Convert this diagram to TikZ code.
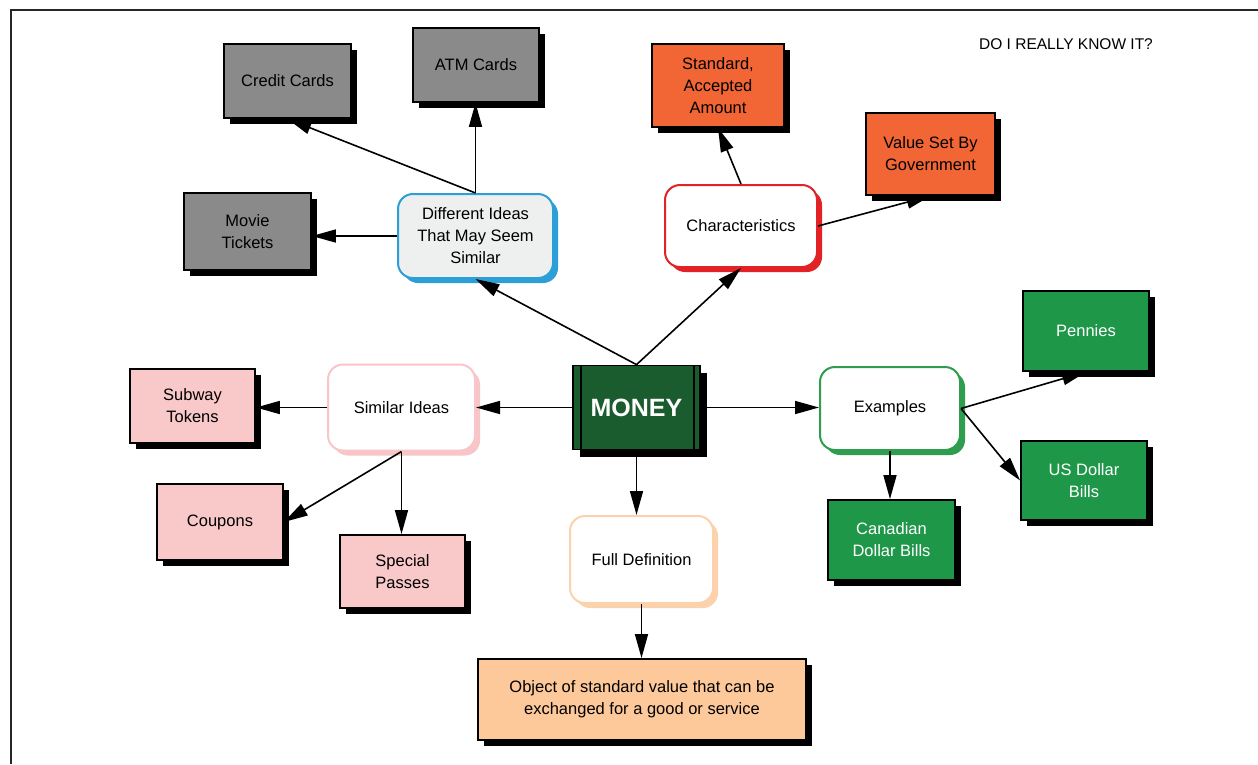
\documentclass[tikz,border=0pt]{standalone}
\usepackage{fontspec}
\setmainfont{Liberation Sans}
\usetikzlibrary{arrows.meta,shadows}
\definecolor{boxgray}{HTML}{8A8A8A}
\definecolor{boxorange}{HTML}{F26535}
\definecolor{boxgreen}{HTML}{1F9749}
\definecolor{moneygreen}{HTML}{1A5C2E}
\definecolor{boxpink}{HTML}{F9C9CA}
\definecolor{boxpeach}{HTML}{FDC99A}
\definecolor{peachline}{HTML}{FBD2AC}
\definecolor{blueline}{HTML}{2C9FD6}
\definecolor{bluefill}{HTML}{EEF0F0}
\definecolor{redline}{HTML}{E32228}
\definecolor{greenline}{HTML}{2E9E4E}
\definecolor{pinkline}{HTML}{F8C6C8}
\tikzset{
  sq/.style={draw=black, line width=1.8pt, inner sep=2pt, align=center,
    font=\fontsize{16.5}{22}\selectfont,
    drop shadow={shadow xshift=6pt, shadow yshift=-6pt, fill=black, opacity=1}},
  rnd/.style={draw=#1, line width=2pt, rounded corners=15pt, fill=white, inner sep=2pt,
    align=center, font=\fontsize{16.5}{22}\selectfont,
    drop shadow={shadow xshift=5pt, shadow yshift=-5pt, fill=#1, opacity=1}},
  arr/.style={-{Triangle[length=24pt,width=13pt]}, line width=1.6pt},
}
\begin{document}
\begin{tikzpicture}[x=1pt,y=-1pt]
\useasboundingbox (0,0) rectangle (1258,764);
\fill[white] (0,0) rectangle (1258,764);
\draw[line width=2.5pt, black!85] (11,764) -- (11,10) -- (1258,10);

\node[font=\fontsize{15.5}{18}\selectfont] (title) at (1066,44) {DO I REALLY KNOW IT?};

% gray
\node[sq, fill=boxgray, minimum width=127pt, minimum height=74pt] (credit) at (287.5,81) {Credit Cards};
\node[sq, fill=boxgray, minimum width=126pt, minimum height=74pt] (atm) at (476,65) {ATM Cards};
\node[sq, fill=boxgray, minimum width=127pt, minimum height=77pt] (movie) at (247.5,231.5) {Movie\\Tickets};
\node[rnd=blueline, fill=bluefill, minimum width=155pt, minimum height=84pt] (diff) at (475.5,236) {Different Ideas\\That May Seem\\Similar};

% orange
\node[rnd=redline, minimum width=152pt, minimum height=82pt] (charac) at (741,226) {Characteristics};
\node[sq, fill=boxorange, minimum width=132pt, minimum height=83pt] (standard) at (718,85.5) {Standard,\\Accepted\\Amount};
\node[sq, fill=boxorange, minimum width=129pt, minimum height=82pt] (valueset) at (930.5,154) {Value Set By\\Government};

% money
\node[draw=black, line width=1.8pt, fill=moneygreen, text=white, minimum width=127pt, minimum height=84pt,
  font=\fontsize{25}{28}\selectfont\bfseries,
  drop shadow={shadow xshift=7pt, shadow yshift=-7pt, fill=black, opacity=1}] (money) at (636.5,407.5) {MONEY};
\draw[line width=1.5pt] ([xshift=9pt]money.north west) -- ([xshift=9pt]money.south west);
\draw[line width=1.5pt] ([xshift=-7pt]money.north east) -- ([xshift=-7pt]money.south east);

% green
\node[rnd=greenline, minimum width=140pt, minimum height=83pt] (examples) at (890,408.5) {Examples};
\node[sq, fill=boxgreen, text=white, minimum width=126pt, minimum height=80pt] (pennies) at (1086,331) {Pennies};
\node[sq, fill=boxgreen, text=white, minimum width=126pt, minimum height=79pt] (usd) at (1084,480.5) {US Dollar\\Bills};
\node[sq, fill=boxgreen, text=white, minimum width=127pt, minimum height=80pt] (canadian) at (891.5,540) {Canadian\\Dollar Bills};

% pink
\node[rnd=pinkline, minimum width=147pt, minimum height=86pt] (similar) at (401.5,407.5) {Similar Ideas};
\node[sq, fill=boxpink, minimum width=125pt, minimum height=74pt] (subway) at (192.5,406) {Subway\\Tokens};
\node[sq, fill=boxpink, minimum width=126pt, minimum height=76pt] (coupons) at (220,522) {Coupons};
\node[sq, fill=boxpink, minimum width=125pt, minimum height=73pt] (special) at (402.5,571.5) {Special\\Passes};

% definition
\node[rnd=peachline, minimum width=143pt, minimum height=87pt] (fulldef) at (641.5,559.5) {Full Definition};
\node[sq, fill=boxpeach, minimum width=328pt, minimum height=81pt] (object) at (642,699.5) {Object of standard value that can be\\exchanged for a good or service};

% connectors
\draw[arr] (diff.north) -- (credit.south);
\draw[arr] (diff.north) -- (diff.north |- atm.south);
\draw[arr] (diff.west) -- (diff.west -| movie.east);
\draw[arr] (money.north) -- (diff.south);
\draw[arr] (money.north) -- (charac.south);
\draw[arr] (charac.north) -- (standard.south);
\draw[arr] (charac.east) -- (valueset.south);
\draw[arr] (money.west) -- (money.west -| similar.east);
\draw[arr] (similar.west) -- (similar.west -| subway.east);
\draw[arr] (similar.south) -- (coupons.east);
\draw[arr] (similar.south) -- (similar.south |- special.north);
\draw[arr] (money.east) -- (money.east -| examples.west);
\draw[arr] (examples.east) -- (pennies.south);
\draw[arr] (examples.east) -- (usd.west);
\draw[arr] (examples.south) -- (examples.south |- canadian.north);
\draw[arr] (money.south) -- (money.south |- fulldef.north);
\draw[arr] (fulldef.south) -- (fulldef.south |- object.north);
\end{tikzpicture}
\end{document}
